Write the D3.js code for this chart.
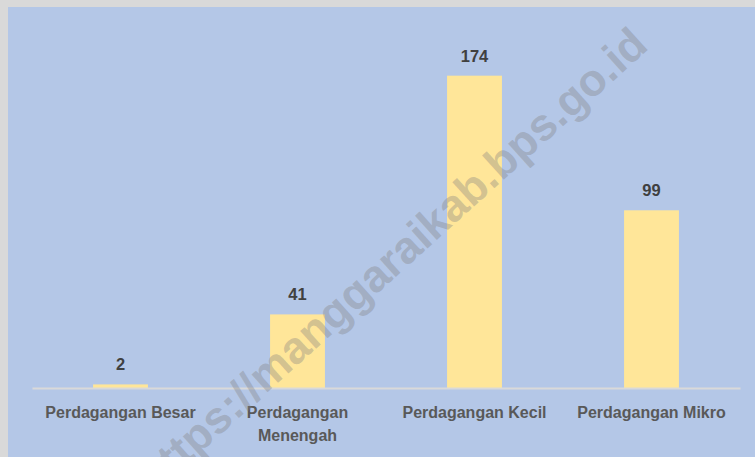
<!DOCTYPE html>
<html>
<head>
<meta charset="utf-8">
<script src="https://cdn.jsdelivr.net/npm/d3@7"></script>
<style>
  body { margin: 0; padding: 0; background: #d9d9d9; }
  svg { display: block; }
</style>
</head>
<body>
<div id="chart"></div>
<script>
// data
var categories = ["Perdagangan Besar", "Perdagangan Menengah", "Perdagangan Kecil", "Perdagangan Mikro"];
var categoryLines = [["Perdagangan Besar"], ["Perdagangan", "Menengah"], ["Perdagangan Kecil"], ["Perdagangan Mikro"]];
var values = [2, 41, 174, 99];
var watermark = "https://manggaraikab.bps.go.id";

var width = 755, height = 457;

var svg = d3.select("#chart").append("svg")
    .attr("width", width)
    .attr("height", height);

// gray frame then blue chart area
svg.append("rect").attr("x", 0).attr("y", 0).attr("width", width).attr("height", height).attr("fill", "#d9d9d9");
svg.append("rect").attr("x", 8).attr("y", 7).attr("width", width - 8).attr("height", height - 7).attr("fill", "#b4c7e7");

var x = d3.scaleBand()
    .domain(categories)
    .range([32, 740])
    .paddingInner(0.69)
    .paddingOuter(0.345);

var y = d3.scaleLinear()
    .domain([0, 200])
    .range([388, 29]);

// bars
svg.selectAll(".bar")
    .data(values)
    .enter().append("rect")
    .attr("class", "bar")
    .attr("x", function(d, i){ return x(categories[i]); })
    .attr("y", function(d){ return y(d); })
    .attr("width", x.bandwidth())
    .attr("height", function(d){ return y(0) - y(d); })
    .attr("fill", "#ffe699");

// axis line
var xAxis = d3.axisBottom(x).tickSize(0).tickFormat("");
var axisG = svg.append("g")
    .attr("transform", "translate(0," + y(0) + ")")
    .call(xAxis);
axisG.select(".domain").attr("stroke", "#d9d9d9").attr("stroke-width", 2);

// value labels
svg.selectAll(".val")
    .data(values)
    .enter().append("text")
    .attr("class", "val")
    .attr("x", function(d, i){ return x(categories[i]) + x.bandwidth() / 2; })
    .attr("y", function(d){ return y(d) - 14; })
    .attr("text-anchor", "middle")
    .attr("font-family", "Liberation Sans, Arial, sans-serif")
    .attr("font-weight", "bold")
    .attr("font-size", 16.5)
    .attr("fill", "#404040")
    .text(function(d){ return d; });

// category labels
var catG = svg.selectAll(".cat")
    .data(categoryLines)
    .enter().append("text")
    .attr("class", "cat")
    .attr("text-anchor", "middle")
    .attr("font-family", "Liberation Sans, Arial, sans-serif")
    .attr("font-weight", "bold")
    .attr("font-size", 16)
    .attr("fill", "#595959");

catG.each(function(lines, i){
    var t = d3.select(this);
    var cx = x(categories[i]) + x.bandwidth() / 2;
    lines.forEach(function(line, j){
        t.append("tspan")
         .attr("x", cx)
         .attr("y", 418 + j * 23)
         .text(line);
    });
});

// watermark on top
svg.append("text")
    .attr("transform", "translate(650,48) rotate(-42)")
    .attr("text-anchor", "end")
    .attr("font-family", "Liberation Sans, Arial, sans-serif")
    .attr("font-weight", "bold")
    .attr("font-size", 45)
    .attr("fill", "#808080")
    .attr("fill-opacity", 0.36)
    .text(watermark);
</script>
</body>
</html>
